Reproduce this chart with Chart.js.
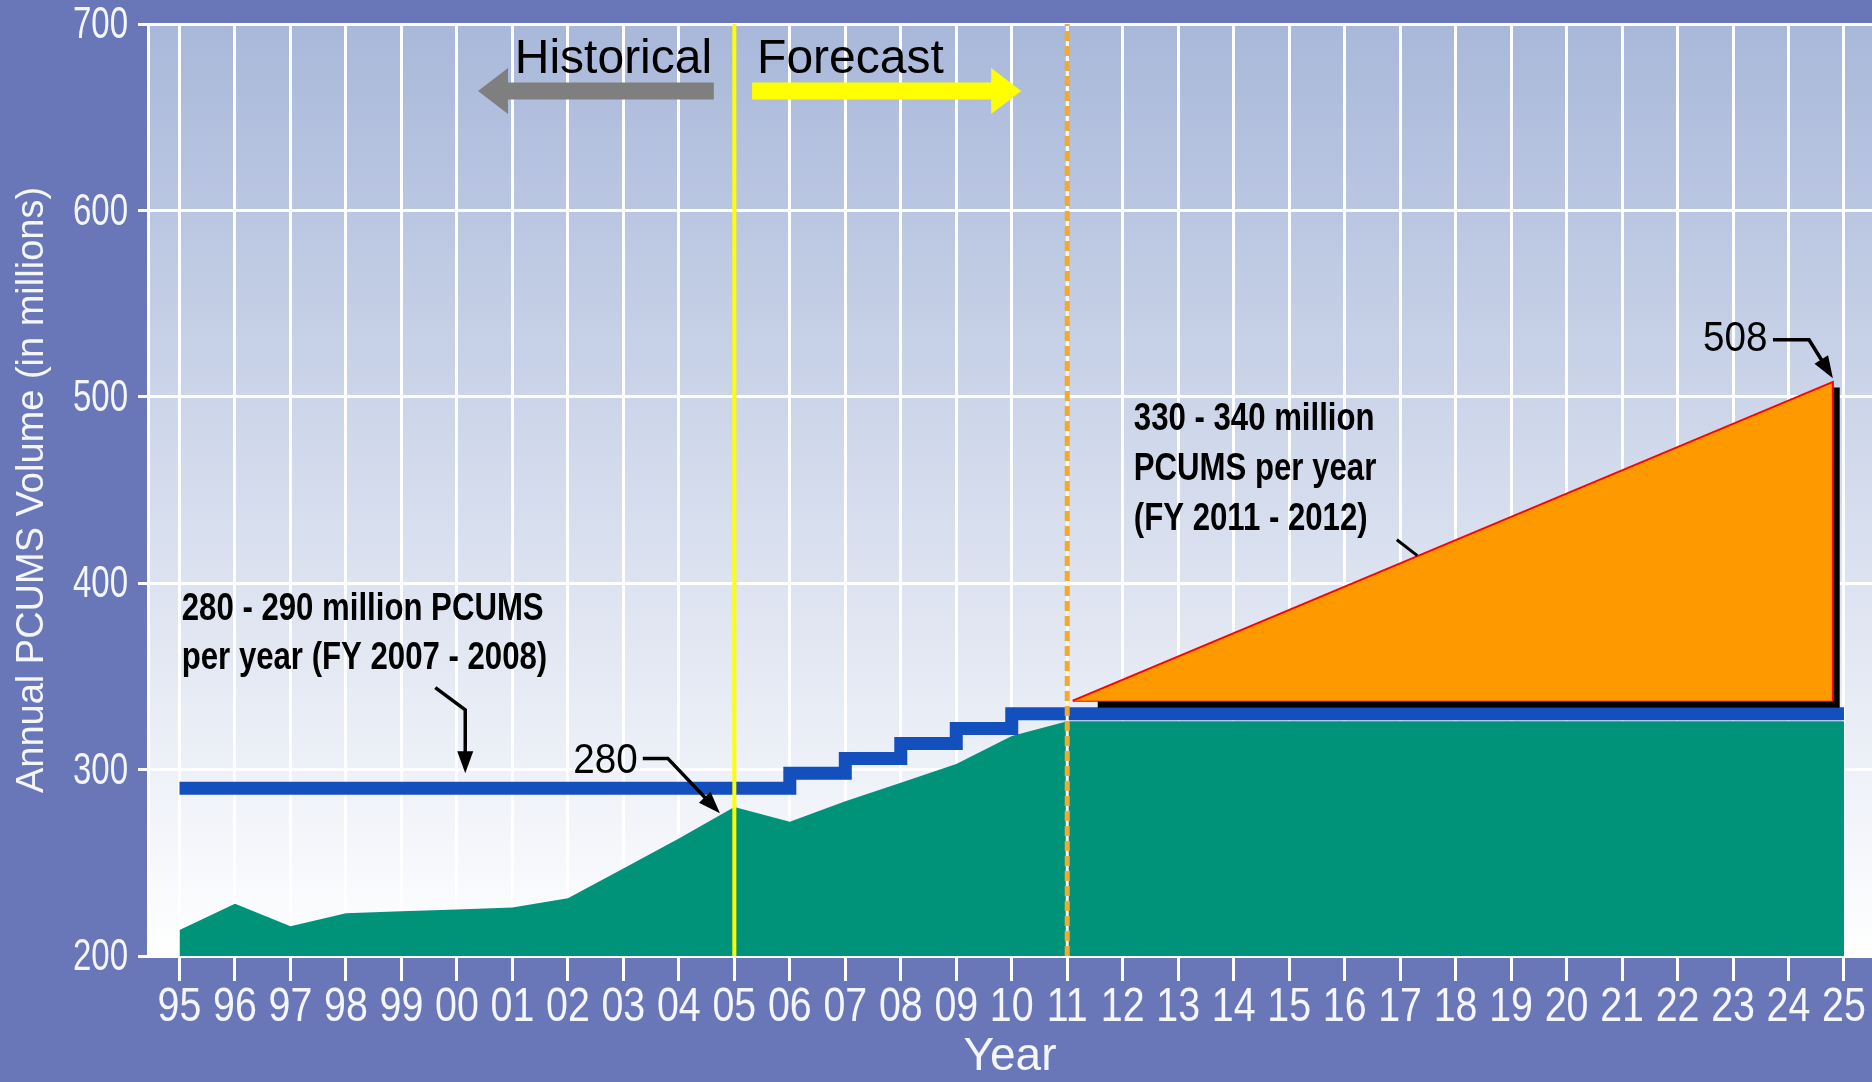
<!DOCTYPE html>
<html>
<head>
<meta charset="utf-8">
<script src="https://cdn.jsdelivr.net/npm/chart.js@4.4.1/dist/chart.umd.min.js"></script>
<style>
  html, body { margin: 0; padding: 0; background: #6977b8; overflow: hidden; }
  #wrap { width: 1872px; height: 1082px; }
</style>
</head>
<body>
<div id="wrap"><canvas id="pcums" width="1872" height="1082"></canvas></div>
<script>
const years = [1995, 1996, 1997, 1998, 1999, 2000, 2001, 2002, 2003, 2004, 2005,
  2006, 2007, 2008, 2009, 2010, 2011, 2012, 2013, 2014, 2015, 2016, 2017, 2018,
  2019, 2020, 2021, 2022, 2023, 2024, 2025];
const yearLabels = ['95', '96', '97', '98', '99', '00', '01', '02', '03', '04', '05',
  '06', '07', '08', '09', '10', '11', '12', '13', '14', '15', '16', '17', '18',
  '19', '20', '21', '22', '23', '24', '25'];

// annual volume (millions) - actuals to FY11, then held flat
const volume = [214, 228, 216, 223, 224, 225, 226, 231, 247, 263, 280,
  272, 283, 293, 303, 318, 326, 326, 326, 326, 326, 326, 326, 326,
  326, 326, 326, 326, 326, 326, 326];
// processing capacity per year
const capacity = [290, 290, 290, 290, 290, 290, 290, 290, 290, 290, 290,
  298, 306, 314, 322, 330, 330, 330, 330, 330, 330, 330, 330, 330,
  330, 330, 330, 330, 330, 330, 330];

// forecast growth wedge
const wedgeYears = [2011.1, 2024.8, 2024.8];
const wedgeValues = [337, 508, 337];
const shadowYears = [2011.55, 2024.86, 2024.86];
const shadowValues = [335, 335, 505];

const splitYear = 2005;     // historical | forecast
const forecastYear = 2011;  // start of growth
const yRange = [200, 700];

const sans = '"Liberation Sans", Arial, sans-serif';
const labelColor = '#f4f6fb';

const pts = (xs, ys) => xs.map((x, i) => ({x: x, y: ys[i]}));
const vline = (x) => [{x: x, y: yRange[0]}, {x: x, y: yRange[1]}];

// no narrow face installed, so squeeze the regular one
function squeezed(ctx, s, x, y, align, k) {
  ctx.save();
  ctx.translate(x, y);
  ctx.scale(k, 1);
  ctx.textAlign = align;
  ctx.fillText(s, 0, 0);
  ctx.restore();
}

const backdrop = {
  id: 'backdrop',
  beforeDraw(chart) {
    const {ctx, chartArea: a} = chart;
    ctx.save();
    ctx.fillStyle = '#6977b8';
    ctx.fillRect(0, 0, chart.width, chart.height);
    const g = ctx.createLinearGradient(0, a.top, 0, a.bottom);
    g.addColorStop(0, '#a9b8da');
    g.addColorStop(1, '#ffffff');
    ctx.fillStyle = g;
    ctx.fillRect(a.left, a.top, a.right - a.left, a.bottom - a.top);
    ctx.restore();
  }
};

// tick labels in a condensed look
const narrowTicks = {
  id: 'narrowTicks',
  afterDraw(chart) {
    const {ctx, scales: {x, y}} = chart;
    ctx.save();
    ctx.fillStyle = labelColor;
    ctx.textBaseline = 'middle';
    ctx.font = '48px ' + sans;
    x.ticks.forEach((t, i) => {
      squeezed(ctx, yearLabels[i], x.getPixelForValue(t.value), x.top + 25 + 27, 'center', 0.82);
    });
    ctx.font = '44px ' + sans;
    y.ticks.forEach(t => {
      squeezed(ctx, String(t.value), y.right - 20, y.getPixelForValue(t.value) + 2, 'right', 0.75);
    });
    ctx.restore();
  }
};

function blockArrow(ctx, x0, x1, yc, color) {
  const dir = Math.sign(x1 - x0);
  const headLen = 30, half = 8.5, headHalf = 23;
  const xb = x1 - dir * headLen;
  ctx.fillStyle = color;
  ctx.beginPath();
  ctx.moveTo(x0, yc - half);
  ctx.lineTo(xb, yc - half);
  ctx.lineTo(xb, yc - headHalf);
  ctx.lineTo(x1, yc);
  ctx.lineTo(xb, yc + headHalf);
  ctx.lineTo(xb, yc + half);
  ctx.lineTo(x0, yc + half);
  ctx.closePath();
  ctx.fill();
}

function pointer(ctx, path) {
  ctx.strokeStyle = '#000';
  ctx.fillStyle = '#000';
  ctx.lineWidth = 3.5;
  ctx.lineJoin = 'miter';
  const n = path.length;
  const [tx, ty] = path[n - 1];
  const [sx, sy] = path[n - 2];
  const ang = Math.atan2(ty - sy, tx - sx);
  const len = 22, w = 8;
  ctx.beginPath();
  ctx.moveTo(path[0][0], path[0][1]);
  for (let i = 1; i < n - 1; i++) ctx.lineTo(path[i][0], path[i][1]);
  ctx.lineTo(tx - Math.cos(ang) * len * 0.8, ty - Math.sin(ang) * len * 0.8);
  ctx.stroke();
  ctx.beginPath();
  ctx.moveTo(tx, ty);
  ctx.lineTo(tx - Math.cos(ang) * len - Math.sin(ang) * w, ty - Math.sin(ang) * len + Math.cos(ang) * w);
  ctx.lineTo(tx - Math.cos(ang) * len + Math.sin(ang) * w, ty - Math.sin(ang) * len - Math.cos(ang) * w);
  ctx.closePath();
  ctx.fill();
}

const notes = {
  id: 'notes',
  afterDatasetsDraw(chart) {
    const {ctx, scales: {x, y}} = chart;
    const px = v => x.getPixelForValue(v);
    const py = v => y.getPixelForValue(v);
    ctx.save();

    blockArrow(ctx, px(2004.63), px(2000.38), py(664), '#7f7f7f');
    blockArrow(ctx, px(2005.32), px(2010.17), py(664), '#ffff00');
    ctx.fillStyle = '#000';
    ctx.textBaseline = 'middle';
    ctx.font = '48px ' + sans;
    ctx.textAlign = 'right';
    ctx.fillText('Historical', px(2004.6), py(681));
    ctx.textAlign = 'left';
    ctx.fillText('Forecast', px(2005.41), py(681));

    ctx.font = 'bold 38px ' + sans;
    const k = 0.82;
    squeezed(ctx, '280 - 290 million PCUMS', px(1995.04), py(386), 'left', k);
    squeezed(ctx, 'per year (FY 2007 - 2008)', px(1995.04), py(359.5), 'left', k);
    pointer(ctx, [[px(1999.61), py(344)], [px(2000.15), py(332)], [px(2000.15), py(298)]]);

    squeezed(ctx, '330 - 340 million', px(2012.2), py(487.7), 'left', k);
    squeezed(ctx, 'PCUMS per year', px(2012.2), py(460.9), 'left', k);
    squeezed(ctx, '(FY 2011 - 2012)', px(2012.2), py(434), 'left', k);
    ctx.strokeStyle = '#000';
    ctx.lineWidth = 3;
    ctx.beginPath();
    ctx.moveTo(px(2016.94), py(423.3));
    ctx.lineTo(px(2017.31), py(414.8));
    ctx.stroke();

    // value call-outs
    const i05 = years.indexOf(splitYear);
    const tipVal = volume[i05 - 1] + (volume[i05] - volume[i05 - 1]) * 0.74 + 1;
    ctx.font = '42px ' + sans;
    squeezed(ctx, String(volume[i05]), px(2003.26), py(304.3), 'right', 0.92);
    pointer(ctx, [[px(2003.35), py(306)], [px(2003.8), py(306)], [px(2004.74), py(tipVal)]]);

    const peak = wedgeValues[1];
    squeezed(ctx, String(peak), px(2023.62), py(530.6), 'right', 0.92);
    pointer(ctx, [[px(2023.72), py(530.6)], [px(2024.37), py(530.6)], [px(wedgeYears[1]), py(peak + 2)]]);

    ctx.restore();
  }
};

new Chart(document.getElementById('pcums'), {
  type: 'line',
  data: {
    datasets: [{
      label: 'Forecast split (dash)',
      data: vline(forecastYear),
      borderColor: '#f2a92e',
      borderWidth: 5,
      borderDash: [10, 5],
      order: 1
    }, {
      label: 'Forecast split',
      data: vline(forecastYear),
      borderColor: '#fbf6ea',
      borderWidth: 3,
      order: 2
    }, {
      label: 'Historical split',
      data: vline(splitYear),
      borderColor: '#ffff00',
      borderWidth: 4,
      order: 3
    }, {
      label: 'Forecast growth',
      data: pts(wedgeYears, wedgeValues),
      borderColor: '#ff0000',
      borderWidth: 2,
      backgroundColor: '#ff9900',
      fill: {value: wedgeValues[0]},
      order: 4
    }, {
      label: 'Growth base',
      data: pts([wedgeYears[0], wedgeYears[1]], [wedgeValues[0], wedgeValues[2]]),
      borderColor: '#ff0000',
      borderWidth: 2,
      order: 5
    }, {
      label: 'Growth shadow',
      data: pts(shadowYears, shadowValues),
      borderColor: '#000000',
      borderWidth: 7,
      borderCapStyle: 'butt',
      borderJoinStyle: 'miter',
      order: 6
    }, {
      label: 'Capacity',
      data: pts(years, capacity),
      stepped: true,
      borderColor: '#1450bd',
      borderWidth: 13,
      borderCapStyle: 'butt',
      borderJoinStyle: 'miter',
      order: 7
    }, {
      label: 'Volume',
      data: pts(years, volume),
      borderWidth: 0,
      borderColor: 'rgba(0,0,0,0)',
      backgroundColor: '#00937a',
      fill: 'start',
      order: 8
    }]
  },
  options: {
    responsive: false,
    animation: false,
    devicePixelRatio: 1,
    layout: {padding: {top: 24, right: 0, bottom: 0, left: 0}},
    elements: {point: {radius: 0}, line: {tension: 0}},
    plugins: {legend: {display: false}, tooltip: {enabled: false}},
    scales: {
      x: {
        type: 'linear',
        min: 1994.432,
        max: 2025.505,
        afterBuildTicks: (scale) => { scale.ticks = years.map(v => ({value: v})); },
        afterFit: (scale) => { scale.height = 126; },
        grid: {color: '#ffffff', lineWidth: 3, tickLength: 25, tickColor: '#ffffff', tickWidth: 3},
        border: {color: '#ffffff', width: 3},
        ticks: {display: false, autoSkip: false, maxRotation: 0},
        title: {
          display: true,
          text: 'Year',
          color: labelColor,
          font: {family: sans, size: 46, lineHeight: 1},
          padding: {top: 0, bottom: 2}
        }
      },
      y: {
        min: yRange[0],
        max: yRange[1],
        afterFit: (scale) => { scale.width = 148; },
        grid: {color: '#ffffff', lineWidth: 3, tickLength: 10, tickColor: '#ffffff', tickWidth: 3},
        border: {color: '#ffffff', width: 3},
        ticks: {display: false, stepSize: 100},
        title: {
          display: true,
          text: 'Annual PCUMS Volume (in millions)',
          color: labelColor,
          font: {family: sans, size: 38, lineHeight: 1},
          padding: {top: 14, bottom: 0}
        }
      }
    }
  },
  plugins: [backdrop, notes, narrowTicks]
});
</script>
</body>
</html>
